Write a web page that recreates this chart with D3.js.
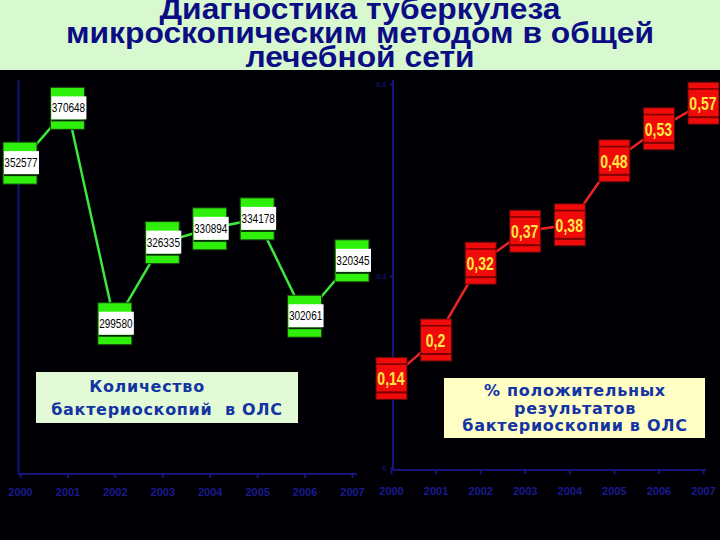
<!DOCTYPE html>
<html>
<head>
<meta charset="utf-8">
<script src="https://cdn.jsdelivr.net/npm/d3@7"></script>
<style>
  body { margin: 0; background: #000; }
  svg { display: block; }
</style>
</head>
<body>
<svg id="chart" width="720" height="540"></svg>
<script>
// chart values
const years = [2000, 2001, 2002, 2003, 2004, 2005, 2006, 2007];
const smearCounts = [352577, 370648, 299580, 326335, 330894, 334178, 302061, 320345];
const positiveShare = [0.14, 0.2, 0.32, 0.37, 0.38, 0.48, 0.53, 0.57];
const shareLabels = ["0,14", "0,2", "0,32", "0,37", "0,38", "0,48", "0,53", "0,57"];
const shareTicks = [0, 0.3, 0.6];
const titleLines = ["Диагностика туберкулеза", "микроскопическим методом в общей", "лечебной сети"];
const leftLegend = ["Количество", "бактериоскопий  в ОЛС"];
const rightLegend = ["% положительных", "результатов", "бактериоскопии в ОЛС"];

(() => {
  const svg = d3.select("#chart");
  const axisColor = "#14147a";

  svg.append("rect").attr("width", 720).attr("height", 540).attr("fill", "#000004");

  // title band
  svg.append("rect").attr("x", 0).attr("y", 0).attr("width", 720).attr("height", 70).attr("fill", "#d8f9d0");
  svg.append("g").selectAll("text")
    .data(titleLines)
    .enter()
    .append("text")
    .attr("x", 360)
    .attr("y", (d, i) => 19 + i * 24)
    .attr("text-anchor", "middle")
    .attr("transform", "translate(360,0) scale(1.06,1) translate(-360,0)") // slightly wider, like the slide font
    .style("font-family", "'Liberation Sans', Arial, sans-serif")
    .style("font-weight", "bold")
    .style("font-size", "30px")
    .attr("fill", "#0c0c84")
    .text(d => d);

  // ---- left chart: number of smears
  const xL = d3.scalePoint().domain(years).range([20, 352]);
  const yL = d3.scaleLinear().domain([250000, 380000]).range([474, 80]);

  const axL = svg.append("g").attr("transform", "translate(0,474)")
    .call(d3.axisBottom(xL).tickSize(4).tickPadding(10));
  axL.select(".domain").attr("d", "M18,0H357");
  const axLy = svg.append("g").attr("transform", "translate(18,0)")
    .call(d3.axisLeft(yL).tickValues([]).tickSizeOuter(0));

  // ---- right chart: % positive
  const xR = d3.scalePoint().domain(years).range([391, 703]);
  const yR = d3.scaleLinear().domain([0, 0.6]).range([468, 84]);

  const axR = svg.append("g").attr("transform", "translate(0,470)")
    .call(d3.axisBottom(xR).tickSize(4).tickPadding(13));
  axR.select(".domain").attr("d", "M393,0H706");
  const axRy = svg.append("g").attr("transform", "translate(393,0)")
    .call(d3.axisLeft(yR).tickValues(shareTicks).tickSize(3)
      .tickFormat(d => d3.format(".1f")(d).replace(".", ",").replace(/^0,0$/, "0")));
  axRy.select(".domain").attr("d", "M0,80V470");

  [axL, axLy, axR, axRy].forEach(a => {
    a.selectAll("path, line").attr("stroke", axisColor).attr("stroke-width", 2);
    a.selectAll("text")
      .attr("fill", "#1a1a90")
      .style("font-family", "'Liberation Sans', Arial, sans-serif")
      .style("font-weight", "bold")
      .style("font-size", "11px");
  });
  axRy.selectAll("text").style("font-size", "8px").attr("fill", "#101060");

  // legend boxes
  svg.append("rect").attr("x", 36).attr("y", 372).attr("width", 262).attr("height", 51).attr("fill", "#e2fbd6");
  svg.append("g").selectAll("text")
    .data(leftLegend)
    .enter()
    .append("text")
    .attr("x", (d, i) => i === 0 ? 147 : 167)
    .attr("y", (d, i) => 392 + i * 23)
    .attr("text-anchor", "middle")
    .style("white-space", "pre")
    .style("font-family", "'DejaVu Sans', Verdana, sans-serif")
    .style("font-weight", "bold")
    .style("font-size", "16px")
    .style("letter-spacing", "0.7px")
    .attr("fill", "#1434a4")
    .text(d => d);

  svg.append("rect").attr("x", 444).attr("y", 378).attr("width", 261).attr("height", 60).attr("fill", "#ffffc6");
  svg.append("g").selectAll("text")
    .data(rightLegend)
    .enter()
    .append("text")
    .attr("x", 575)
    .attr("y", (d, i) => 396 + i * 17.5)
    .attr("text-anchor", "middle")
    .style("font-family", "'DejaVu Sans', Verdana, sans-serif")
    .style("font-weight", "bold")
    .style("font-size", "16px")
    .style("letter-spacing", "0.7px")
    .attr("fill", "#1434a4")
    .text(d => d);

  // left series line + markers
  const lineL = d3.line().x((d, i) => xL(years[i])).y(d => yL(d));
  svg.append("path")
    .datum(smearCounts)
    .attr("d", lineL)
    .attr("fill", "none")
    .attr("stroke", "#3ce83c")
    .attr("stroke-width", 2.5);

  const mL = svg.append("g").selectAll("g")
    .data(smearCounts)
    .enter()
    .append("g")
    .attr("transform", (d, i) => `translate(${xL(years[i])},${yL(d)})`);
  mL.append("rect")
    .attr("x", -17).attr("y", -21).attr("width", 34).attr("height", 42)
    .attr("fill", "#2ef00a")
    .attr("stroke", "#1a3a10").attr("stroke-width", 1);
  mL.append("rect")
    .attr("x", -16).attr("y", 11).attr("width", 34).attr("height", 2)
    .attr("fill", "#0a2a0a");
  mL.append("rect")
    .attr("x", -16).attr("y", -12).attr("width", 35).attr("height", 23)
    .attr("fill", "#ffffff");
  mL.append("text")
    .attr("x", 0).attr("y", 4)
    .attr("text-anchor", "middle")
    .attr("transform", "translate(1,0) scale(0.8,1)")
    .style("font-family", "'Liberation Sans', Arial, sans-serif")
    .style("font-size", "12.5px")
    .attr("fill", "#000")
    .text(d => d);

  // right series line + markers
  const lineR = d3.line().x((d, i) => xR(years[i])).y(d => yR(d));
  svg.append("path")
    .datum(positiveShare)
    .attr("d", lineR)
    .attr("fill", "none")
    .attr("stroke", "#ee2424")
    .attr("stroke-width", 2.5);

  const mR = svg.append("g").selectAll("g")
    .data(positiveShare)
    .enter()
    .append("g")
    .attr("transform", (d, i) => `translate(${xR(years[i])},${yR(d)})`);
  mR.append("rect")
    .attr("x", -15).attr("y", -21).attr("width", 31).attr("height", 42)
    .attr("fill", "#f00a0a")
    .attr("stroke", "#5a0a0a").attr("stroke-width", 1);
  mR.append("rect")
    .attr("x", -15).attr("y", -15).attr("width", 31).attr("height", 1.5)
    .attr("fill", "#7a0000");
  mR.append("rect")
    .attr("x", -15).attr("y", 13).attr("width", 31).attr("height", 2)
    .attr("fill", "#7a0000");
  mR.append("text")
    .attr("x", 0).attr("y", 7)
    .attr("text-anchor", "middle")
    .attr("transform", "scale(0.74,1)")
    .style("font-family", "'Liberation Sans', Arial, sans-serif")
    .style("font-weight", "bold")
    .style("font-size", "19px")
    .attr("fill", "#ffe640")
    .text((d, i) => shareLabels[i]);
})();
</script>
</body>
</html>
